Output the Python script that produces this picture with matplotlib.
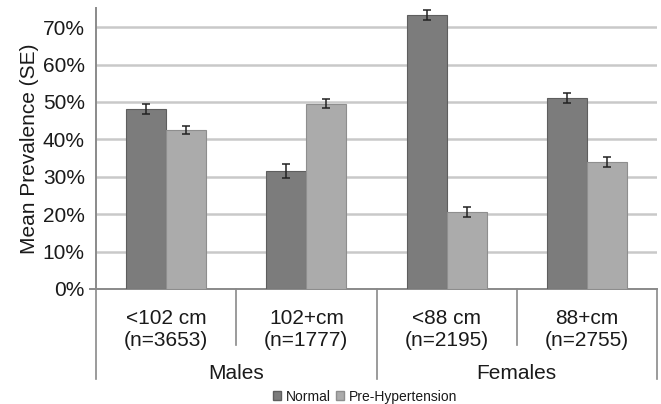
import matplotlib
matplotlib.use("Agg")
import matplotlib.pyplot as plt
import numpy as np
from matplotlib.patches import Patch

# ── data ─────────────────────────────────────────────────────────────────────
categories = ["<102 cm\n(n=3653)", "102+cm\n(n=1777)",
              "<88 cm\n(n=2195)", "88+cm\n(n=2755)"]
groups = ["Males", "Females"]
normal = [48.2, 31.5, 73.3, 51.1]
normal_se = [1.3, 1.8, 1.3, 1.4]
prehyp = [42.6, 49.5, 20.6, 34.0]
prehyp_se = [1.1, 1.2, 1.3, 1.4]
yticks = [0, 10, 20, 30, 40, 50, 60, 70]

plt.rcParams["font.family"] = ["Liberation Sans", "DejaVu Sans"]
TXT = "#1a1a1a"
FS = 15

fig = plt.figure(figsize=(6.61, 4.04), dpi=100)
ax = fig.add_axes([0.1452, 0.2847, 0.8488, 0.6953])

x = np.arange(len(categories))
w = 0.285
ax.bar(x - w / 2, normal, w, color="#7c7c7c", edgecolor="#5e5e5e",
       linewidth=0.8, zorder=3)
ax.bar(x + w / 2, prehyp, w, color="#ababab", edgecolor="#8e8e8e",
       linewidth=0.8, zorder=3)
ax.errorbar(x - w / 2, normal, yerr=normal_se, fmt="none", ecolor="#222222",
            elinewidth=1.1, capsize=3, capthick=1.1, zorder=4)
ax.errorbar(x + w / 2, prehyp, yerr=prehyp_se, fmt="none", ecolor="#222222",
            elinewidth=1.1, capsize=3, capthick=1.1, zorder=4)

ax.set_xlim(-0.5, 3.5)
ax.set_ylim(0, 75.1)
ax.set_yticks(yticks)
ax.set_yticklabels([f"{t}%" for t in yticks], fontsize=FS, color=TXT)
ax.set_xticks([])
ax.tick_params(axis="y", length=0, pad=8)
ax.yaxis.grid(True, color="#c9c9c9", linewidth=1.8, zorder=0)
ax.set_axisbelow(True)
ax.set_ylabel("Mean Prevalence (SE)", fontsize=FS, color=TXT, labelpad=3)

for s in ["top", "right"]:
    ax.spines[s].set_visible(False)
ax.spines["left"].set_color("#8a8a8a")
ax.spines["left"].set_linewidth(1.4)
ax.spines["bottom"].set_color("#8a8a8a")
ax.spines["bottom"].set_linewidth(1.4)

# separators below the axis
tr = ax.get_xaxis_transform()
for xs in [0.5, 2.5]:
    ax.plot([xs, xs], [0, -0.2], transform=tr, color="#8a8a8a", lw=1.2,
            clip_on=False)
for xs in [-0.5, 1.5, 3.5]:
    ax.plot([xs, xs], [0, -0.32], transform=tr, color="#8a8a8a", lw=1.2,
            clip_on=False)
ax.plot([-0.54, -0.5], [0, 0], transform=tr, color="#8a8a8a", lw=1.4,
        clip_on=False)

for i, lab in enumerate(categories):
    ax.text(i, -0.145, lab, transform=tr, ha="center", va="center",
            fontsize=FS, color=TXT, linespacing=1.2)
for i, g in enumerate(groups):
    ax.text(2 * i + 0.5, -0.3, g, transform=tr, ha="center", va="center",
            fontsize=FS, color=TXT)

handles = [Patch(facecolor="#7c7c7c", edgecolor="#5e5e5e", label="Normal"),
           Patch(facecolor="#ababab", edgecolor="#8e8e8e",
                 label="Pre-Hypertension")]
fig.legend(handles=handles, loc="center", bbox_to_anchor=(0.552, 0.018),
           ncol=2, frameon=False, fontsize=10, handlelength=0.6,
           handleheight=0.6, handletextpad=0.3, columnspacing=0.4,
           labelcolor=TXT)

fig.savefig("out.png", dpi=100, facecolor="white")
